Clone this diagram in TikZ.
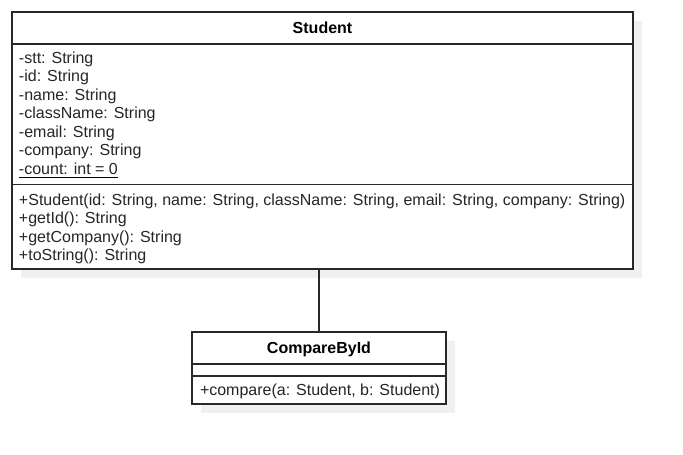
\documentclass[tikz,border=0pt]{standalone}
\usepackage{fontspec}
\setmainfont{Liberation Sans}
\definecolor{edge}{RGB}{40,40,40}
\definecolor{shadowgray}{RGB}{240,240,240}
\begin{document}
\begin{tikzpicture}[x=1pt,y=-1pt,
  box/.style={draw=edge, line width=1.2pt, fill=white, inner sep=0pt, outer sep=0pt, anchor=north west},
  txt/.style={inner sep=0pt, outer sep=0pt, anchor=base west, font=\fontsize{16}{18.5}\selectfont, text=black!85},
  ttl/.style={inner sep=0pt, outer sep=0pt, anchor=base, font=\fontsize{16}{18.5}\selectfont\bfseries},
  divider/.style={draw=edge, line width=1.2pt},
  link/.style={draw=edge, line width=1.2pt}]
\useasboundingbox (0,0) rectangle (683,455);
% shadows
\fill[shadowgray] (21,21) rectangle (642,278);
\fill[shadowgray] (201,341) rectangle (455,413);
% Student class
\node[box, minimum width=621pt, minimum height=257pt] (student) at (12,12) {};
\draw[divider] (12,44) -- (633,44);
\draw[divider] (12,184.5) -- (633,184.5);
\node[ttl] (stitle) at (322.5,34) {Student};
\node[txt] (a1) at (19,63.3) {-stt: String};
\node[txt] (a2) at (19,81.8) {-id: String};
\node[txt] (a3) at (19,100.3) {-name: String};
\node[txt] (a4) at (19,118.8) {-className: String};
\node[txt] (a5) at (19,137.3) {-email: String};
\node[txt] (a6) at (19,155.8) {-company: String};
\node[txt] (a7) at (19,174.3) {-count: int = 0};
\draw[line width=0.8pt] ([yshift=-3pt]a7.base west) -- ([yshift=-3pt]a7.base east);
\node[txt] (m1) at (19,205) {+Student(id: String, name: String, className: String, email: String, company: String)};
\node[txt] (m2) at (19,223.5) {+getId(): String};
\node[txt] (m3) at (19,242) {+getCompany(): String};
\node[txt] (m4) at (19,260.5) {+toString(): String};
% CompareById class
\node[box, minimum width=254pt, minimum height=72pt] (cmp) at (192,332) {};
\draw[divider] (192,364) -- (446,364);
\draw[divider] (192,376) -- (446,376);
\node[ttl] (ctitle) at (319,353) {CompareById};
\node[txt] (c1) at (200,395) {+compare(a: Student, b: Student)};
% association
\draw[link] (cmp.north |- student.south) -- (cmp.north);
\end{tikzpicture}
\end{document}
